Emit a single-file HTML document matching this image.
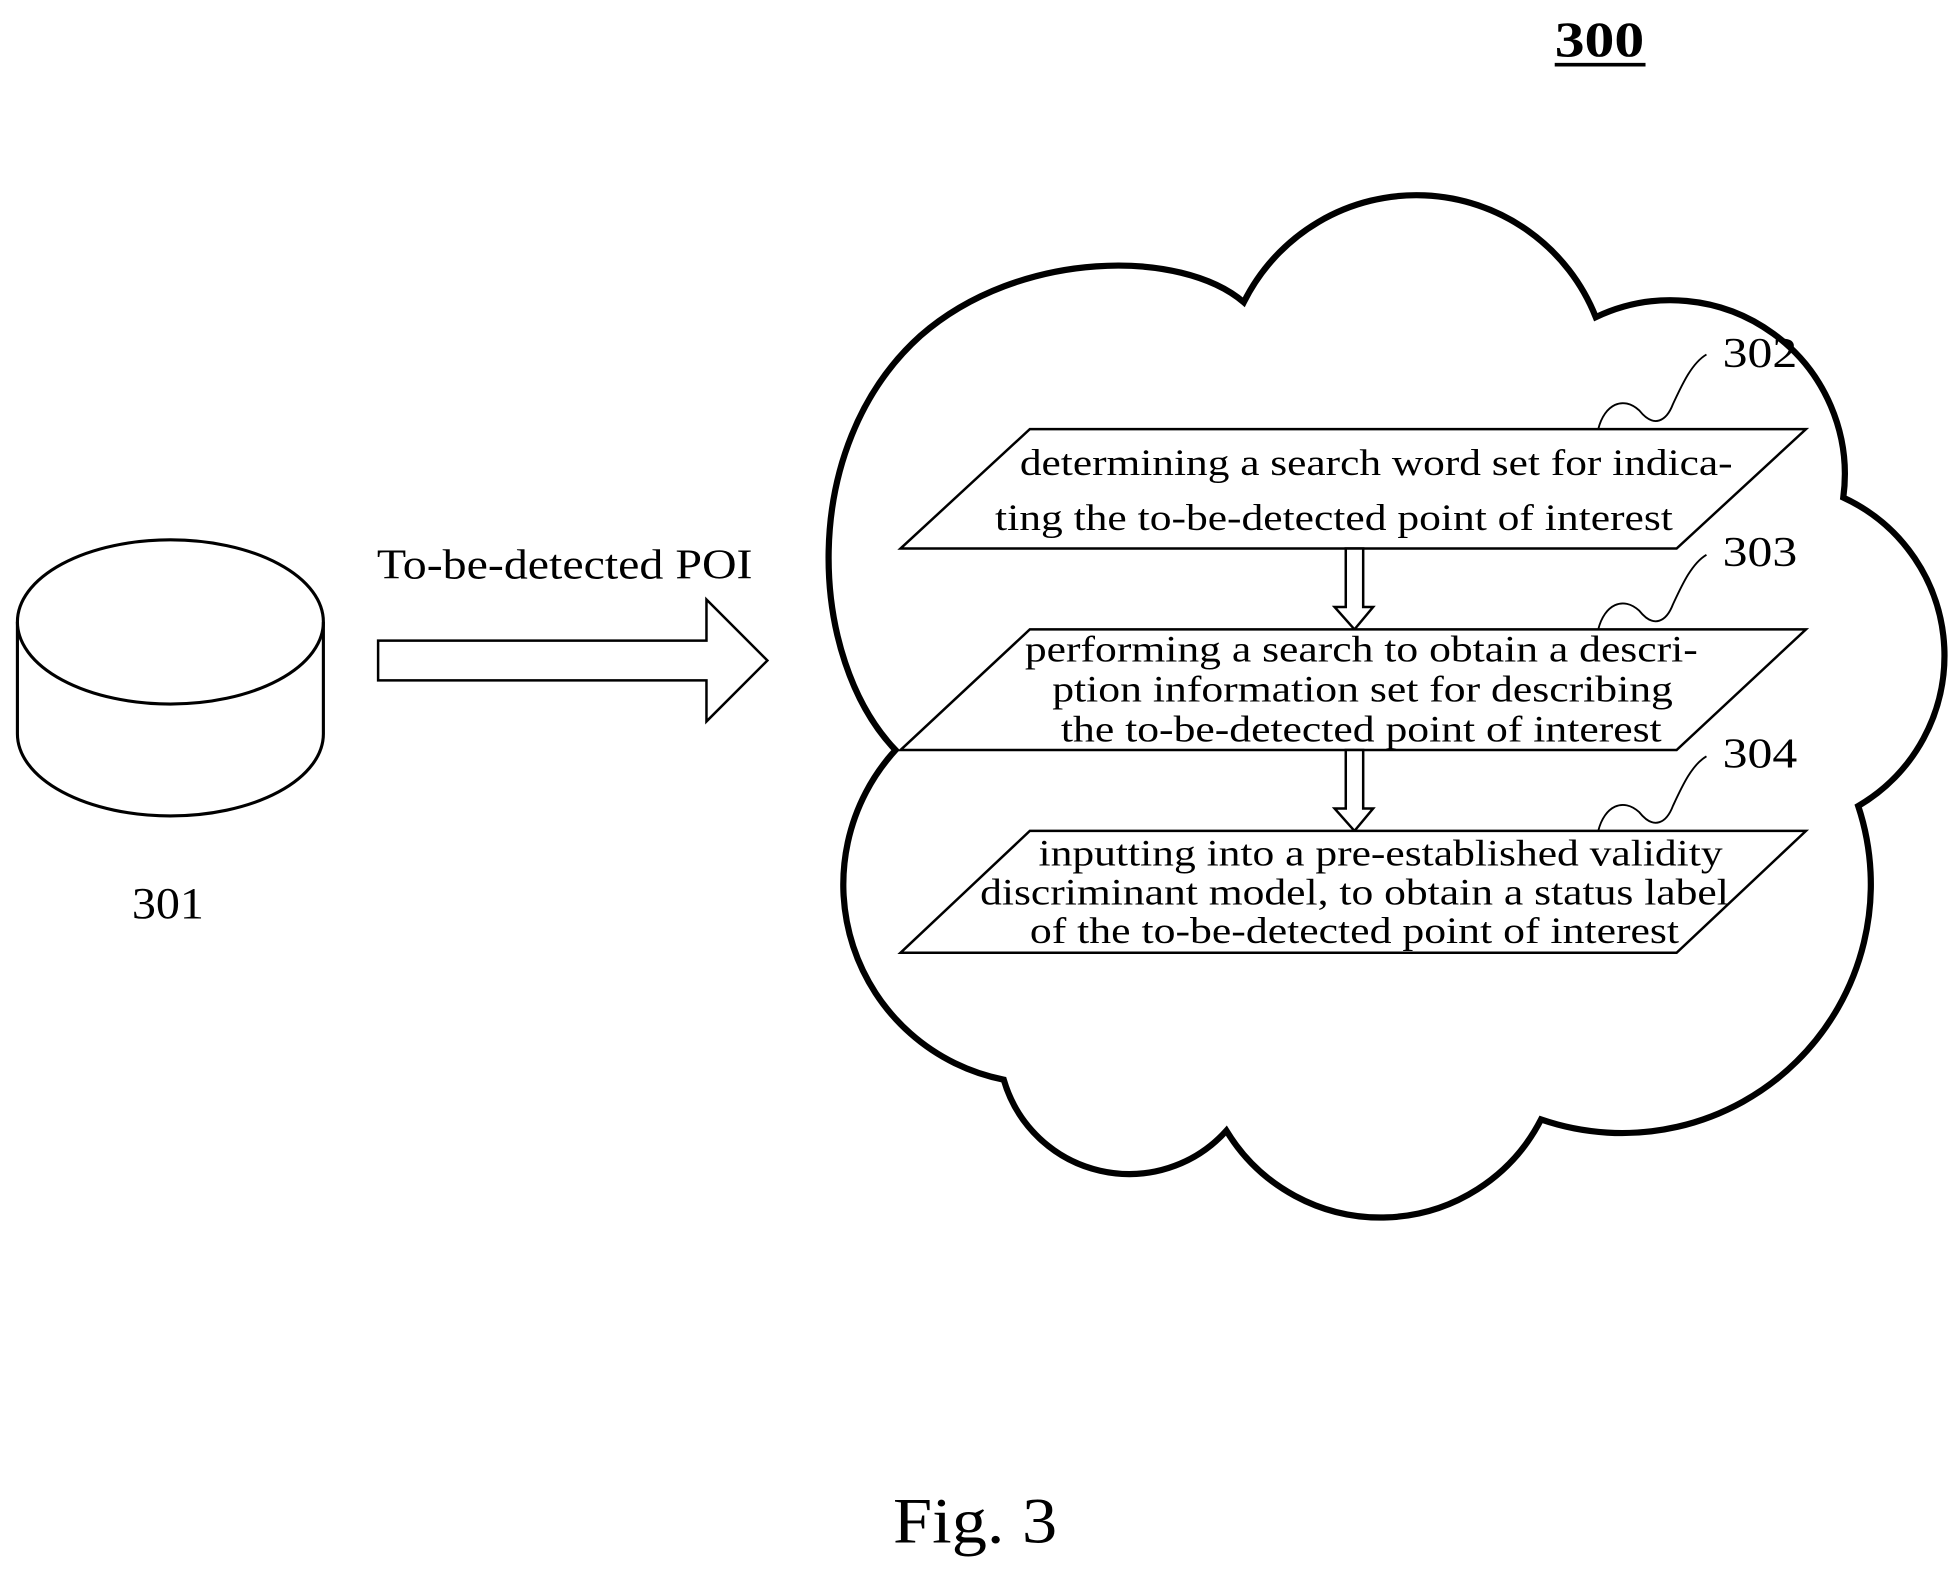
<!DOCTYPE html>
<html><head><meta charset="utf-8"><style>
html,body{margin:0;padding:0;background:#fff;}
svg{display:block;}
</style></head><body>
<svg width="1949" height="1571" viewBox="0 0 1567 1263" preserveAspectRatio="none" xmlns="http://www.w3.org/2000/svg" font-family="'Liberation Serif', 'Times New Roman', serif">
<g font-family="'Liberation Serif', 'Times New Roman', serif" fill="#000">
<text x="1250" y="45" font-size="40" font-weight="bold" textLength="72" lengthAdjust="spacingAndGlyphs">300</text>
<line x1="1250" y1="52" x2="1323" y2="52" stroke="#000" stroke-width="3"/>
<path d="M14,500 L14,590 A123,66 0 0 0 260,590 L260,500" fill="none" stroke="#000" stroke-width="2.5"/>
<ellipse cx="137" cy="500" rx="123" ry="66" fill="none" stroke="#000" stroke-width="2.5"/>
<text x="106" y="738" font-size="36" textLength="58" lengthAdjust="spacingAndGlyphs">301</text>
<text x="303" y="465" font-size="34" textLength="302" lengthAdjust="spacingAndGlyphs">To-be-detected POI</text>
<path d="M304,515 L568,515 L568,482 L617,531 L568,580 L568,547 L304,547 Z" fill="none" stroke="#000" stroke-width="2"/>
<path d="M720,603 C650,530 640,360 740,270 C820,200 950,200 1000,243 A155,155 0 0 1 1283,255 A140,140 0 0 1 1482,400 A140,140 0 0 1 1494,648 A200,200 0 0 1 1239,900 A145,145 0 0 1 986,909 A105,105 0 0 1 807,868 A160,160 0 0 1 720,603 Z" fill="none" stroke="#000" stroke-width="5"/>
<polygon points="828,345 1452,345 1348,441 724,441" fill="#fff" stroke="#000" stroke-width="2"/>
<text x="820" y="382" font-size="30" textLength="573" lengthAdjust="spacingAndGlyphs">determining a search word set for indica-</text>
<text x="800" y="426" font-size="30" textLength="545" lengthAdjust="spacingAndGlyphs">ting the to-be-detected point of interest</text>
<path d="M1285,345 C1290,325 1305,318 1318,330 C1330,345 1340,338 1345,325 C1352,310 1360,292 1372,285" fill="none" stroke="#000" stroke-width="1.5"/>
<text x="1385" y="295" font-size="34" textLength="60" lengthAdjust="spacingAndGlyphs">302</text>
<path d="M1082,441 L1096,441 L1096,488 L1104,488 L1089,506 L1073,488 L1082,488 Z" fill="#fff" stroke="#000" stroke-width="2"/>
<polygon points="828,506 1452,506 1348,603 724,603" fill="#fff" stroke="#000" stroke-width="2"/>
<text x="824" y="532" font-size="30" textLength="541" lengthAdjust="spacingAndGlyphs">performing a search to obtain a descri-</text>
<text x="846" y="564" font-size="30" textLength="499" lengthAdjust="spacingAndGlyphs">ption information set for describing</text>
<text x="853" y="596" font-size="30" textLength="483" lengthAdjust="spacingAndGlyphs">the to-be-detected point of interest</text>
<path d="M1285,506 C1290,486 1305,479 1318,491 C1330,506 1340,499 1345,486 C1352,471 1360,453 1372,446" fill="none" stroke="#000" stroke-width="1.5"/>
<text x="1385" y="455" font-size="34" textLength="60" lengthAdjust="spacingAndGlyphs">303</text>
<path d="M1082,603 L1096,603 L1096,650 L1104,650 L1089,668 L1073,650 L1082,650 Z" fill="#fff" stroke="#000" stroke-width="2"/>
<polygon points="828,668 1452,668 1348,766 724,766" fill="#fff" stroke="#000" stroke-width="2"/>
<text x="835" y="696" font-size="30" textLength="550" lengthAdjust="spacingAndGlyphs">inputting into a pre-established validity</text>
<text x="788" y="727" font-size="30" textLength="602" lengthAdjust="spacingAndGlyphs">discriminant model, to obtain a status label</text>
<text x="828" y="758" font-size="30" textLength="522" lengthAdjust="spacingAndGlyphs">of the to-be-detected point of interest</text>
<path d="M1285,668 C1290,648 1305,641 1318,653 C1330,668 1340,661 1345,648 C1352,633 1360,615 1372,608" fill="none" stroke="#000" stroke-width="1.5"/>
<text x="1385" y="617" font-size="34" textLength="60" lengthAdjust="spacingAndGlyphs">304</text>
<text x="718" y="1240" font-size="52" textLength="132" lengthAdjust="spacingAndGlyphs">Fig. 3</text>
</g>
</svg>
</body></html>
